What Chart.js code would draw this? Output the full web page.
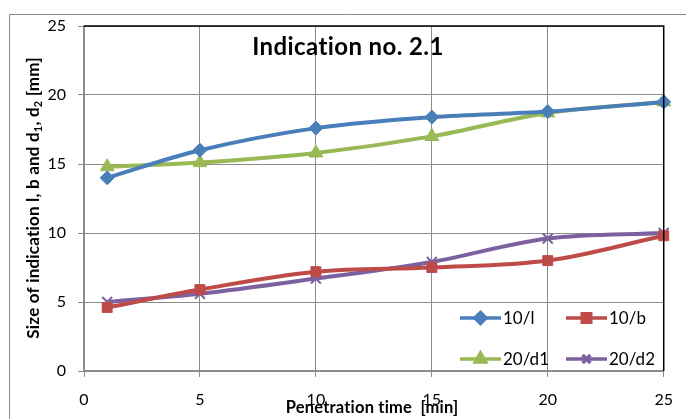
<!DOCTYPE html>
<html>
<head>
<meta charset="utf-8">
<script src="https://cdn.jsdelivr.net/npm/chart.js@4"></script>
<style>
  html, body { margin: 0; padding: 0; background: #fff; }
  #wrap { width: 686px; height: 419px; }
</style>
</head>
<body>
<div id="wrap"><canvas id="chart" width="686" height="419"></canvas></div>
<script>
// penetration time [min]
const times = [1, 5, 10, 15, 20, 25];

// indication sizes [mm]
const l10 = [14.0, 16.0, 17.6, 18.4, 18.8, 19.5];
const b10 = [4.6, 5.9, 7.2, 7.5, 8.0, 9.8];
const d1_20 = [14.8, 15.1, 15.8, 17.0, 18.7, 19.5];
const d2_20 = [5.0, 5.6, 6.7, 7.9, 9.6, 10.0];

const seriesNames = ["10/l", "10/b", "20/d1", "20/d2"];
const colors = ["#4A7EBB", "#BE4B48", "#98B954", "#7D60A0"];
const markers = ["rectRot", "rect", "triangle", "crossRot"];
const markerSizes = [7, 7, 8, 7];
const legendSizes = [5.5, 6, 6, 5.5];

const FONT = "Lato, 'Liberation Sans', sans-serif";
const GRID = "#8c8c8c";

function pts(ys) {
  return ys.map((y, i) => ({ x: times[i], y }));
}

const allSeries = [l10, b10, d1_20, d2_20];

const datasets = allSeries.map((ys, i) => ({
  label: seriesNames[i],
  data: pts(ys),
  borderColor: colors[i],
  backgroundColor: colors[i],
  borderWidth: 4,
  tension: 0.35,
  pointStyle: markers[i],
  pointRadius: markerSizes[i],
  pointBorderColor: colors[i],
  pointBackgroundColor: colors[i],
  pointBorderWidth: markers[i] === "crossRot" ? 2 : 1,
  clip: false
}));

// frame, title, axis titles and legend drawn on the canvas
const extras = {
  id: "extras",
  beforeDraw(chart) {
    const ctx = chart.ctx;
    ctx.save();
    ctx.strokeStyle = "#8a8a8a";
    ctx.lineWidth = 1;
    ctx.beginPath();
    ctx.moveTo(9.5, 430);
    ctx.lineTo(9.5, 14.5);
    ctx.lineTo(700, 14.5);
    ctx.stroke();
    ctx.restore();
  },
  afterDraw(chart) {
    const ctx = chart.ctx;
    const area = chart.chartArea;
    ctx.save();

    // top and right border of the plot
    ctx.strokeStyle = "#000";
    ctx.lineWidth = 1.5;
    ctx.beginPath();
    ctx.moveTo(area.left, area.top);
    ctx.lineTo(area.right, area.top);
    ctx.lineTo(area.right, area.bottom);
    ctx.stroke();

    // chart title (letter spacing keeps Lato from using the "ti" ligature)
    ctx.fillStyle = "#000";
    ctx.letterSpacing = "0.4px";
    ctx.font = "bold 24px " + FONT;
    ctx.textAlign = "center";
    ctx.textBaseline = "middle";
    ctx.fillText("Indication no. 2.1", 348, 47);

    // x axis title
    ctx.letterSpacing = "0.2px";
    ctx.font = "bold 16.5px " + FONT;
    ctx.fillText("Penetration time  [min]", 372, 408);

    // y axis title with subscripts
    const parts = [
      ["Size of indication l, b and d", false],
      ["1", true],
      [", d", false],
      ["2", true],
      [" [mm]", false]
    ];
    const big = "bold 17px " + FONT;
    const small = "bold 11px " + FONT;
    let total = 0;
    parts.forEach(p => { ctx.font = p[1] ? small : big; total += ctx.measureText(p[0]).width; });
    ctx.translate(33, 198);
    ctx.rotate(-Math.PI / 2);
    ctx.textAlign = "left";
    ctx.textBaseline = "alphabetic";
    let x = -total / 2;
    parts.forEach(p => {
      ctx.font = p[1] ? small : big;
      ctx.fillText(p[0], x, p[1] ? 9 : 6);
      x += ctx.measureText(p[0]).width;
    });
    ctx.setTransform(1, 0, 0, 1, 0, 0);
    ctx.letterSpacing = "0px";

    // legend, two columns inside the plot
    const cols = [460, 566];
    const rows = [318, 359];
    ctx.font = "17px " + FONT;
    ctx.textBaseline = "middle";
    ctx.textAlign = "left";
    chart.data.datasets.forEach((ds, i) => {
      const lx = cols[i % 2];
      const ly = rows[Math.floor(i / 2)];
      ctx.strokeStyle = ds.borderColor;
      ctx.lineWidth = 3.5;
      ctx.beginPath();
      ctx.moveTo(lx, ly);
      ctx.lineTo(lx + 41, ly);
      ctx.stroke();
      ctx.fillStyle = ds.borderColor;
      ctx.strokeStyle = ds.borderColor;
      Chart.helpers.drawPoint(ctx, {
        pointStyle: ds.pointStyle,
        radius: legendSizes[i],
        borderWidth: ds.pointBorderWidth,
        rotation: 0
      }, lx + 20.5, ly);
      ctx.fillStyle = "#000";
      ctx.fillText(ds.label, lx + 43, ly + 1);
    });
    ctx.restore();
  }
};

new Chart(document.getElementById("chart"), {
  type: "line",
  data: { datasets },
  options: {
    responsive: false,
    animation: false,
    layout: { padding: { left: 0, top: 26, right: 22, bottom: 0 } },
    plugins: {
      legend: { display: false },
      tooltip: { enabled: false }
    },
    scales: {
      x: {
        type: "linear",
        min: 0,
        max: 25,
        ticks: { stepSize: 5, color: "#000", font: { family: FONT, size: 16 }, padding: 13, maxRotation: 0 },
        grid: { color: GRID, tickColor: GRID, tickLength: 6, lineWidth: 1 },
        border: { color: GRID, width: 1.5 },
        afterFit(s) { s.height = 48; }
      },
      y: {
        min: 0,
        max: 25,
        ticks: { stepSize: 5, color: "#000", font: { family: FONT, size: 16 }, padding: 12 },
        grid: { color: GRID, tickColor: GRID, tickLength: 6, lineWidth: 1 },
        border: { color: GRID, width: 1.5 },
        afterFit(s) { s.width = 84; }
      }
    }
  },
  plugins: [extras]
});
</script>
</body>
</html>
